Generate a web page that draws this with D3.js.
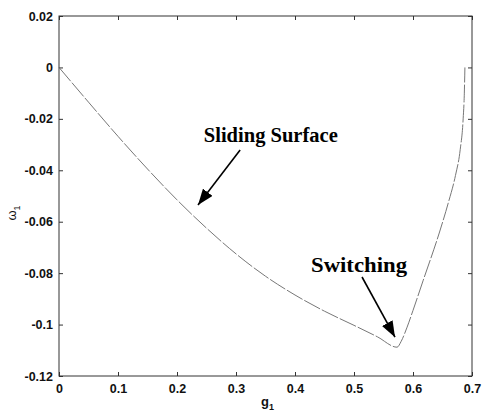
<!DOCTYPE html>
<html>
<head>
<meta charset="utf-8">
<script src="https://cdn.jsdelivr.net/npm/d3@7"></script>
<style>
  html, body { margin: 0; padding: 0; background: #fff; }
  svg { display: block; }
  .tick text { font-family: "Liberation Sans", Arial, sans-serif; font-weight: bold; font-size: 12.5px; fill: #111; }
</style>
</head>
<body>
<script>
// Phase-plane trajectory: state g1 against omega1
const g1     = [0, 0.05, 0.10, 0.15, 0.20, 0.25, 0.30, 0.35, 0.40, 0.45, 0.50, 0.54, 0.573, 0.58, 0.59, 0.60, 0.617, 0.645, 0.66, 0.672, 0.68, 0.685, 0.687, 0.688];
const omega1 = [0, -0.0135, -0.0268, -0.0395, -0.0515, -0.0625, -0.0725, -0.0812, -0.0885, -0.0948, -0.1003, -0.1048, -0.1088, -0.1065, -0.1010, -0.0945, -0.0830, -0.0640, -0.0525, -0.0420, -0.0320, -0.0200, -0.0100, 0];

// Axis ticks
const xTicks = [0, 0.1, 0.2, 0.3, 0.4, 0.5, 0.6, 0.7];
const yTicks = [0.02, 0, -0.02, -0.04, -0.06, -0.08, -0.1, -0.12];
const xTickLabels = ["0", "0.1", "0.2", "0.3", "0.4", "0.5", "0.6", "0.7"];
const yTickLabels = ["0.02", "0", "-0.02", "-0.04", "-0.06", "-0.08", "-0.1", "-0.12"];

// Annotations: text position and arrow (from -> to) in data units
const notes = [
  { text: "Sliding Surface", tx: 0.359, ty: -0.029, len: 134, x1: 0.307, y1: -0.0321, x2: 0.2356, y2: -0.0535 },
  { text: "Switching",       tx: 0.5085, ty: -0.0796, len: 96, x1: 0.5136, y1: -0.0815, x2: 0.5695, y2: -0.1049 }
];

const W = 483, H = 418;
const margin = { top: 16, right: 11, bottom: 42, left: 59 };
const iw = W - margin.left - margin.right;
const ih = H - margin.top - margin.bottom;

const svg = d3.select("body").append("svg").attr("width", W).attr("height", H);

svg.append("defs").append("marker")
  .attr("id", "head")
  .attr("viewBox", "0 0 16 12")
  .attr("refX", 16).attr("refY", 6)
  .attr("markerWidth", 16).attr("markerHeight", 12)
  .attr("markerUnits", "userSpaceOnUse")
  .attr("orient", "auto")
  .append("path").attr("d", "M0,0 L16,6 L0,12 Z").attr("fill", "#000");

const g = svg.append("g").attr("transform", `translate(${margin.left},${margin.top})`);

const x = d3.scaleLinear().domain([0, 0.7]).range([0, iw]);
const y = d3.scaleLinear().domain([-0.12, 0.02]).range([ih, 0]);

const tick = 4;
function styleAxis(sel) {
  sel.select(".domain").remove();
  sel.selectAll(".tick line").attr("stroke", "#333").attr("stroke-width", 1);
}

// Bottom and left axes with labels, inward ticks
g.append("g").attr("transform", `translate(0,${ih})`)
  .call(d3.axisBottom(x).tickValues(xTicks).tickSizeInner(-tick).tickSizeOuter(0).tickPadding(8)
    .tickFormat((d, i) => xTickLabels[i]))
  .call(styleAxis);
g.append("g")
  .call(d3.axisLeft(y).tickValues(yTicks).tickSizeInner(-tick).tickSizeOuter(0).tickPadding(6)
    .tickFormat((d, i) => yTickLabels[i]))
  .call(styleAxis);
// Top and right axes: ticks only
g.append("g")
  .call(d3.axisTop(x).tickValues(xTicks).tickSizeInner(-tick).tickSizeOuter(0).tickFormat(""))
  .call(styleAxis);
g.append("g").attr("transform", `translate(${iw},0)`)
  .call(d3.axisRight(y).tickValues(yTicks).tickSizeInner(-tick).tickSizeOuter(0).tickFormat(""))
  .call(styleAxis);

// Frame
g.append("rect").attr("x", 0).attr("y", 0).attr("width", iw).attr("height", ih)
  .attr("fill", "none").attr("stroke", "#333").attr("stroke-width", 1);

// Trajectory
const pts = g1.map((v, i) => [v, omega1[i]]);
g.append("path")
  .datum(pts)
  .attr("fill", "none")
  .attr("stroke", "#777")
  .attr("stroke-width", 1)
  .attr("stroke-dasharray", "18,2")
  .attr("d", d3.line().x(d => x(d[0])).y(d => y(d[1])).curve(d3.curveMonotoneX));

// Annotations
notes.forEach(n => {
  g.append("text")
    .attr("x", x(n.tx)).attr("y", y(n.ty))
    .attr("text-anchor", "middle")
    .attr("font-family", "'Liberation Serif', 'Times New Roman', serif")
    .attr("font-weight", "bold")
    .attr("font-size", 20)
    .attr("textLength", n.len)
    .attr("lengthAdjust", "spacingAndGlyphs")
    .attr("fill", "#000")
    .text(n.text);
  g.append("line")
    .attr("x1", x(n.x1)).attr("y1", y(n.y1))
    .attr("x2", x(n.x2)).attr("y2", y(n.y2))
    .attr("stroke", "#000").attr("stroke-width", 1.6)
    .attr("marker-end", "url(#head)");
});

// Axis titles
const xt = svg.append("text")
  .attr("x", margin.left + iw / 2 + 2).attr("y", 406)
  .attr("text-anchor", "middle")
  .attr("font-family", "'Liberation Sans', Arial, sans-serif")
  .attr("font-weight", "bold").attr("font-size", 13).attr("fill", "#111");
xt.append("tspan").text("g");
xt.append("tspan").attr("font-size", 9).attr("dy", 4).text("1");

const yt = svg.append("text")
  .attr("transform", `translate(16,${margin.top + ih / 2 + 17}) rotate(-90)`)
  .attr("text-anchor", "middle")
  .attr("font-family", "'Liberation Sans', Arial, sans-serif")
  .attr("font-size", 13).attr("fill", "#111");
yt.append("tspan").text("ω");
yt.append("tspan").attr("font-size", 9).attr("dy", 4).text("1");
</script>
</body>
</html>
